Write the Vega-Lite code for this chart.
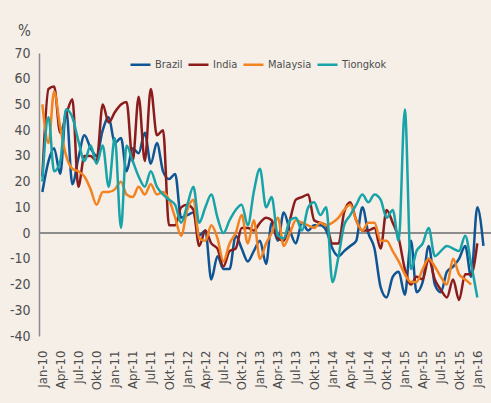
{
  "$schema": "https://vega.github.io/schema/vega-lite/v6.json",
  "width": 452,
  "height": 283,
  "autosize": {"type": "none"},
  "padding": {"left": 39, "top": 53, "right": 0, "bottom": 67},
  "background": "#f5efe8",
  "config": {
    "view": {"stroke": null},
    "font": "Liberation Sans Narrow, DejaVu Sans Condensed, sans-serif",
    "axisY": {
      "labelOverlap": false,
      "labelFlush": false,
      "ticks": false,
      "grid": false,
      "domainColor": "#8c8c8c",
      "domainWidth": 1.5,
      "labelPadding": 9,
      "labelFontSize": 14,
      "labelColor": "#4d4d4d",
      "titleAngle": 0,
      "titleX": -15,
      "titleY": -23,
      "titleAlign": "center",
      "titleBaseline": "middle",
      "titleFontSize": 15,
      "titleFontWeight": "normal",
      "titleColor": "#4d4d4d"
    }
  },
  "data": {
    "values": [
      {"m": "2010-01-01", "Brazil": 16, "India": 22, "Malaysia": 50, "Tiongkok": 20},
      {"m": "2010-02-01", "Brazil": 28, "India": 56, "Malaysia": 35, "Tiongkok": 45},
      {"m": "2010-03-01", "Brazil": 33, "India": 57, "Malaysia": 55, "Tiongkok": 24},
      {"m": "2010-04-01", "Brazil": 23, "India": 39, "Malaysia": 41, "Tiongkok": 28},
      {"m": "2010-05-01", "Brazil": 48, "India": 46, "Malaysia": 30, "Tiongkok": 48},
      {"m": "2010-06-01", "Brazil": 19, "India": 52, "Malaysia": 25, "Tiongkok": 45},
      {"m": "2010-07-01", "Brazil": 29, "India": 18, "Malaysia": 24, "Tiongkok": 36},
      {"m": "2010-08-01", "Brazil": 38, "India": 30, "Malaysia": 22, "Tiongkok": 28},
      {"m": "2010-09-01", "Brazil": 33, "India": 30, "Malaysia": 17, "Tiongkok": 34},
      {"m": "2010-10-01", "Brazil": 30, "India": 28, "Malaysia": 11, "Tiongkok": 27},
      {"m": "2010-11-01", "Brazil": 40, "India": 50, "Malaysia": 16, "Tiongkok": 34},
      {"m": "2010-12-01", "Brazil": 45, "India": 43, "Malaysia": 16, "Tiongkok": 18},
      {"m": "2011-01-01", "Brazil": 35, "India": 47, "Malaysia": 17, "Tiongkok": 37},
      {"m": "2011-02-01", "Brazil": 37, "India": 50, "Malaysia": 20, "Tiongkok": 2},
      {"m": "2011-03-01", "Brazil": 24, "India": 51, "Malaysia": 15, "Tiongkok": 34},
      {"m": "2011-04-01", "Brazil": 33, "India": 28, "Malaysia": 14, "Tiongkok": 28},
      {"m": "2011-05-01", "Brazil": 31, "India": 53, "Malaysia": 18, "Tiongkok": 22},
      {"m": "2011-06-01", "Brazil": 39, "India": 28, "Malaysia": 15, "Tiongkok": 18},
      {"m": "2011-07-01", "Brazil": 27, "India": 56, "Malaysia": 19, "Tiongkok": 24},
      {"m": "2011-08-01", "Brazil": 35, "India": 38, "Malaysia": 15, "Tiongkok": 18},
      {"m": "2011-09-01", "Brazil": 24, "India": 40, "Malaysia": 16, "Tiongkok": 15},
      {"m": "2011-10-01", "Brazil": 21, "India": 3, "Malaysia": 13, "Tiongkok": 13},
      {"m": "2011-11-01", "Brazil": 23, "India": 3, "Malaysia": 6, "Tiongkok": 11},
      {"m": "2011-12-01", "Brazil": 6, "India": 10, "Malaysia": -1, "Tiongkok": 4},
      {"m": "2012-01-01", "Brazil": 7, "India": 11, "Malaysia": 9, "Tiongkok": 11},
      {"m": "2012-02-01", "Brazil": 8, "India": 9, "Malaysia": 13, "Tiongkok": 18},
      {"m": "2012-03-01", "Brazil": -1, "India": -5, "Malaysia": -2, "Tiongkok": 4},
      {"m": "2012-04-01", "Brazil": 1, "India": 1, "Malaysia": -3, "Tiongkok": 10},
      {"m": "2012-05-01", "Brazil": -18, "India": -4, "Malaysia": 3, "Tiongkok": 15},
      {"m": "2012-06-01", "Brazil": -9, "India": -6, "Malaysia": -2, "Tiongkok": 6},
      {"m": "2012-07-01", "Brazil": -14, "India": -13, "Malaysia": -11, "Tiongkok": 0},
      {"m": "2012-08-01", "Brazil": -14, "India": -7, "Malaysia": -4, "Tiongkok": 5},
      {"m": "2012-09-01", "Brazil": -1, "India": -6, "Malaysia": 0, "Tiongkok": 9},
      {"m": "2012-10-01", "Brazil": -6, "India": 2, "Malaysia": 7, "Tiongkok": 11},
      {"m": "2012-11-01", "Brazil": -11, "India": 2, "Malaysia": -4, "Tiongkok": 3},
      {"m": "2012-12-01", "Brazil": -7, "India": 1, "Malaysia": 5, "Tiongkok": 16},
      {"m": "2013-01-01", "Brazil": -3, "India": 4, "Malaysia": -10, "Tiongkok": 25},
      {"m": "2013-02-01", "Brazil": -12, "India": 6, "Malaysia": -4, "Tiongkok": 10},
      {"m": "2013-03-01", "Brazil": 4, "India": 5, "Malaysia": 0, "Tiongkok": 14},
      {"m": "2013-04-01", "Brazil": -3, "India": -2, "Malaysia": 6, "Tiongkok": -1},
      {"m": "2013-05-01", "Brazil": 8, "India": -3, "Malaysia": -5, "Tiongkok": -2},
      {"m": "2013-06-01", "Brazil": 1, "India": 5, "Malaysia": 0, "Tiongkok": 5},
      {"m": "2013-07-01", "Brazil": -4, "India": 13, "Malaysia": 5, "Tiongkok": 6},
      {"m": "2013-08-01", "Brazil": 4, "India": 14, "Malaysia": 4, "Tiongkok": 1},
      {"m": "2013-09-01", "Brazil": 1, "India": 15, "Malaysia": 3, "Tiongkok": 10},
      {"m": "2013-10-01", "Brazil": 3, "India": 5, "Malaysia": 2, "Tiongkok": 12},
      {"m": "2013-11-01", "Brazil": 3, "India": 4, "Malaysia": 4, "Tiongkok": 7},
      {"m": "2013-12-01", "Brazil": 1, "India": 3, "Malaysia": 3, "Tiongkok": 10},
      {"m": "2014-01-01", "Brazil": -6, "India": -4, "Malaysia": 4, "Tiongkok": -19},
      {"m": "2014-02-01", "Brazil": -9, "India": -4, "Malaysia": 6, "Tiongkok": -9},
      {"m": "2014-03-01", "Brazil": -7, "India": 8, "Malaysia": 9, "Tiongkok": 3},
      {"m": "2014-04-01", "Brazil": -5, "India": 12, "Malaysia": 11, "Tiongkok": 7},
      {"m": "2014-05-01", "Brazil": -3, "India": 5, "Malaysia": 5, "Tiongkok": 11},
      {"m": "2014-06-01", "Brazil": 10, "India": 1, "Malaysia": 1, "Tiongkok": 15},
      {"m": "2014-07-01", "Brazil": 0, "India": 1, "Malaysia": 4, "Tiongkok": 12},
      {"m": "2014-08-01", "Brazil": -6, "India": 2, "Malaysia": 4, "Tiongkok": 15},
      {"m": "2014-09-01", "Brazil": -21, "India": -6, "Malaysia": -3, "Tiongkok": 13},
      {"m": "2014-10-01", "Brazil": -25, "India": 9, "Malaysia": -3, "Tiongkok": 6},
      {"m": "2014-11-01", "Brazil": -17, "India": 4, "Malaysia": -7, "Tiongkok": 9},
      {"m": "2014-12-01", "Brazil": -15, "India": -2, "Malaysia": -11, "Tiongkok": -3},
      {"m": "2015-01-01", "Brazil": -24, "India": -14, "Malaysia": -16, "Tiongkok": 48},
      {"m": "2015-02-01", "Brazil": -3, "India": -20, "Malaysia": -19, "Tiongkok": -14},
      {"m": "2015-03-01", "Brazil": -23, "India": -17, "Malaysia": -19, "Tiongkok": -7},
      {"m": "2015-04-01", "Brazil": -19, "India": -18, "Malaysia": -14, "Tiongkok": -4},
      {"m": "2015-05-01", "Brazil": -5, "India": -10, "Malaysia": -10, "Tiongkok": 2},
      {"m": "2015-06-01", "Brazil": -20, "India": -18, "Malaysia": -13, "Tiongkok": -9},
      {"m": "2015-07-01", "Brazil": -23, "India": -22, "Malaysia": -17, "Tiongkok": -7},
      {"m": "2015-08-01", "Brazil": -15, "India": -25, "Malaysia": -20, "Tiongkok": -5},
      {"m": "2015-09-01", "Brazil": -13, "India": -18, "Malaysia": -10, "Tiongkok": -6},
      {"m": "2015-10-01", "Brazil": -10, "India": -26, "Malaysia": -16, "Tiongkok": -7},
      {"m": "2015-11-01", "Brazil": -5, "India": -16, "Malaysia": -18, "Tiongkok": -1},
      {"m": "2015-12-01", "Brazil": -17, "India": -16, "Malaysia": -20, "Tiongkok": -12},
      {"m": "2016-01-01", "Brazil": 10, "India": -4, "Malaysia": null, "Tiongkok": -25},
      {"m": "2016-02-01", "Brazil": -5, "India": null, "Malaysia": null, "Tiongkok": null}
    ]
  },
  "layer": [
    {
      "mark": {"type": "rule", "color": "#8c8c8c", "strokeWidth": 1.5},
      "encoding": {
        "y": {
          "datum": 0,
          "type": "quantitative",
          "scale": {"domain": [-40, 70], "nice": false, "zero": false},
          "axis": {
            "values": [-40, -30, -20, -10, 0, 10, 20, 30, 40, 50, 60, 70],
            "labelExpr": "'' + datum.value",
            "title": "%"
          }
        }
      }
    },
    {
      "transform": [{"fold": ["Brazil", "India", "Malaysia", "Tiongkok"], "as": ["s", "v"]}],
      "mark": {"type": "line", "strokeWidth": 2.5, "interpolate": "monotone"},
      "encoding": {
        "x": {
          "field": "m",
          "type": "temporal",
          "scale": {
            "type": "utc",
            "domain": [
              {"year": 2009, "month": 12, "date": 15, "utc": true},
              {"year": 2016, "month": 3, "date": 10, "utc": true}
            ]
          },
          "axis": {
            "tickCount": {"interval": "month", "step": 3},
            "labelExpr": "['Jan','Feb','Mar','Apr','Mei','Jun','Jul','Agu','Sep','Okt','Nov','Des'][utcmonth(datum.value)] + '-' + utcFormat(datum.value, '%y')",
            "labelAngle": 270,
            "labelAlign": "right",
            "labelBaseline": "middle",
            "labelPadding": 14,
            "labelFontSize": 13,
            "labelColor": "#4d4d4d",
            "labelOverlap": false,
            "labelFlush": false,
            "domain": false,
            "ticks": false,
            "grid": false,
            "title": null
          }
        },
        "y": {
          "field": "v",
          "type": "quantitative",
          "scale": {"domain": [-40, 70], "nice": false, "zero": false},
          "axis": {
            "values": [-40, -30, -20, -10, 0, 10, 20, 30, 40, 50, 60, 70],
            "labelExpr": "'' + datum.value",
            "title": "%"
          }
        },
        "color": {
          "field": "s",
          "type": "nominal",
          "scale": {
            "domain": ["Brazil", "India", "Malaysia", "Tiongkok"],
            "range": ["#0f5493", "#8b1c1c", "#f38221", "#17a3a8"]
          },
          "legend": {
            "orient": "none",
            "legendX": 90,
            "legendY": 0,
            "direction": "horizontal",
            "columns": 4,
            "title": null,
            "symbolType": "stroke",
            "symbolSize": 400,
            "symbolStrokeWidth": 2.5,
            "labelFontSize": 11,
            "labelColor": "#4d4d4d",
            "labelOffset": 3,
            "columnPadding": 0,
            "padding": 0
          }
        }
      }
    }
  ]
}
